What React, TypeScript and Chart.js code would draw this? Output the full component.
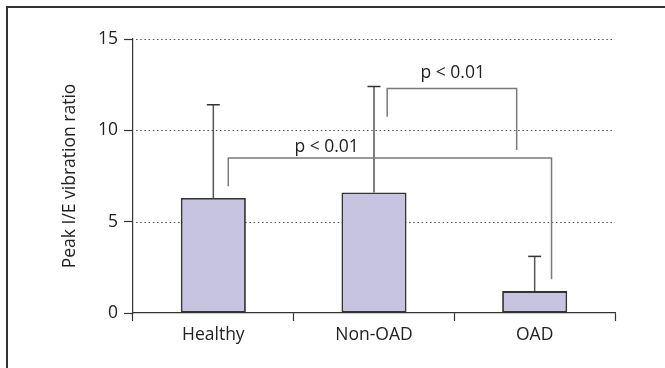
import React, { useEffect, useRef } from "react";
import { Chart, registerables } from "chart.js";

Chart.register(...registerables);

const categories = ["Healthy", "Non-OAD", "OAD"];
const means = [6.3, 6.6, 1.2];
const errorTops = [11.4, 12.4, 3.1];
const yTicks = [0, 5, 10, 15];
const gridValues = [5, 10, 15];

// brackets: [xLeft, yLeftEnd, xRight, yRightEnd, yBar] in category-index / value units
const bracketHealthyOAD = [0.093, 6.94, 2.105, 1.85, 8.48];
const bracketNonOADOAD = [1.082, 10.75, 1.888, 8.92, 12.29];
const bracketLabels = ["p < 0.01", "p < 0.01"];
const bracketLabelPos = [
  [0.705, 8.83],
  [1.49, 12.86],
];

const FONT = "'Open Sans', sans-serif";
const FSIZE = 17.5;

const gridPlugin = {
  id: "dottedGrid",
  beforeDatasetsDraw(chart: any) {
    const ctx = chart.ctx;
    const ys = chart.scales.y;
    const { left, right } = chart.chartArea;
    ctx.save();
    ctx.strokeStyle = "#555";
    ctx.lineWidth = 1;
    ctx.setLineDash([1.5, 2.7]);
    gridValues.forEach((v) => {
      const y = Math.round(ys.getPixelForValue(v)) + 0.5;
      ctx.beginPath();
      ctx.moveTo(left + 3, y);
      ctx.lineTo(right, y);
      ctx.stroke();
    });
    ctx.restore();
  },
};

const overlayPlugin = {
  id: "overlay",
  afterDatasetsDraw(chart: any) {
    const ctx = chart.ctx;
    const xs = chart.scales.x;
    const ys = chart.scales.y;
    ctx.save();
    // error bars
    means.forEach((m, i) => {
      const x = xs.getPixelForValue(i);
      const y0 = ys.getPixelForValue(m);
      const y1 = ys.getPixelForValue(errorTops[i]);
      ctx.strokeStyle = "#555";
      ctx.lineWidth = 1.5;
      ctx.beginPath();
      ctx.moveTo(x, y0);
      ctx.lineTo(x, y1);
      ctx.stroke();
      ctx.strokeStyle = "#333";
      ctx.beginPath();
      ctx.moveTo(x - 6.5, y1);
      ctx.lineTo(x + 6.5, y1);
      ctx.stroke();
    });
    // brackets
    [bracketHealthyOAD, bracketNonOADOAD].forEach((b) => {
      const xl = xs.getPixelForValue(b[0]);
      const xr = xs.getPixelForValue(b[2]);
      const yl = ys.getPixelForValue(b[1]);
      const yr = ys.getPixelForValue(b[3]);
      const yb = ys.getPixelForValue(b[4]);
      ctx.strokeStyle = "#7a7a7a";
      ctx.lineWidth = 1.5;
      ctx.beginPath();
      ctx.moveTo(xl, yl);
      ctx.lineTo(xl, yb);
      ctx.lineTo(xr, yb);
      ctx.lineTo(xr, yr);
      ctx.stroke();
    });
    ctx.fillStyle = "#222";
    ctx.font = `${FSIZE}px ${FONT}`;
    ctx.textAlign = "center";
    ctx.textBaseline = "alphabetic";
    bracketLabels.forEach((t, i) => {
      ctx.fillText(
        t,
        xs.getPixelForValue(bracketLabelPos[i][0]),
        ys.getPixelForValue(bracketLabelPos[i][1])
      );
    });
    ctx.restore();
  },
};

export default function App() {
  const ref = useRef<HTMLCanvasElement>(null);
  useEffect(() => {
    if (!ref.current) return;
    const chart = new Chart(ref.current, {
      type: "bar",
      data: {
        labels: categories,
        datasets: [
          {
            data: means,
            backgroundColor: "#c6c4e1",
            borderColor: "#333",
            borderWidth: 1.8,
            borderSkipped: false,
            barPercentage: 0.405,
            categoryPercentage: 1,
          },
        ],
      },
      options: {
        animation: false,
        responsive: false,
        devicePixelRatio: 1,
        layout: { padding: { left: 0, top: 39, right: 50, bottom: 0 } },
        plugins: { legend: { display: false }, tooltip: { enabled: false } },
        scales: {
          x: {
            afterFit: (s: any) => {
              s.height = 55;
            },
            grid: {
              drawOnChartArea: false,
              drawTicks: true,
              tickLength: 8,
              tickColor: "#333",
              tickWidth: 1.2,
              offset: true,
            },
            border: { display: true, color: "#333", width: 1.2 },
            ticks: {
              color: "#222",
              font: { family: FONT, size: FSIZE },
              padding: 4,
            },
          },
          y: {
            min: 0,
            max: 15,
            afterFit: (s: any) => {
              s.width = 133;
            },
            afterBuildTicks: (s: any) => {
              s.ticks = yTicks.map((v) => ({ value: v }));
            },
            grid: {
              drawOnChartArea: false,
              drawTicks: true,
              tickLength: 9,
              tickColor: "#333",
              tickWidth: 1.2,
            },
            border: { display: true, color: "#333", width: 1.2 },
            ticks: {
              color: "#222",
              font: { family: FONT, size: FSIZE },
              padding: 6,
            },
            title: {
              display: true,
              text: "Peak I/E vibration ratio",
              color: "#222",
              font: { family: FONT, size: FSIZE },
              padding: { top: 60, bottom: 0 },
            },
          },
        },
      },
      plugins: [gridPlugin, overlayPlugin],
    });
    return () => chart.destroy();
  }, []);
  return (
    <div>
      <div
        style={{
          position: "fixed",
          left: 6,
          top: 6,
          width: 720,
          height: 420,
          borderTop: "2px solid #333",
          borderLeft: "2px solid #333",
          boxSizing: "border-box",
        }}
      />
      <canvas
        ref={ref}
        width={665}
        height={368}
        style={{ position: "fixed", left: 0, top: 0, width: 665, height: 368 }}
      />
    </div>
  );
}
